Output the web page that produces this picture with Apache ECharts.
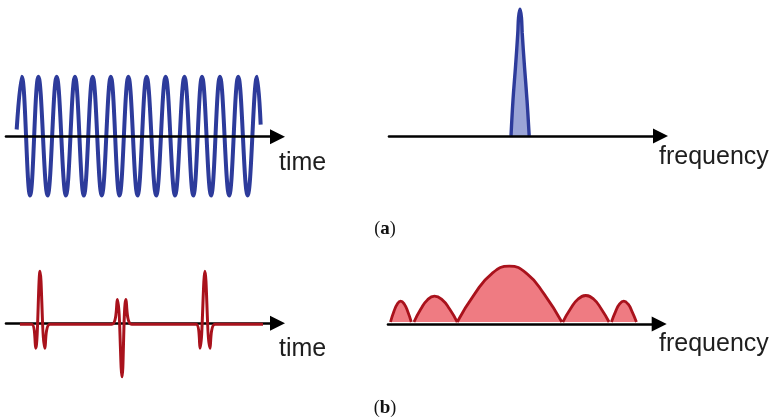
<!DOCTYPE html>
<html>
<head>
<meta charset="utf-8">
<script src="https://cdn.jsdelivr.net/npm/echarts@6/dist/echarts.min.js"></script>
<style>
html,body{margin:0;padding:0;background:#fff;}
#chart{width:772px;height:417px;}
</style>
</head>
<body>
<div id="chart"></div>
<script>
// (a) time signal: continuous sine wave (start, alternating peaks/troughs, end)
const sineTime = [0.59, 0.87, 1.33, 1.79, 2.30, 2.80, 3.31, 3.81, 4.30, 4.79, 5.29, 5.79, 6.27, 6.76, 7.27, 7.77, 8.30, 8.82, 9.34, 9.86, 10.35, 10.83, 11.33, 11.82, 12.33, 12.83, 13.35, 13.87, 14.07];
const sineAmp  = [0.12, 1.0, -0.98, 1.0, -0.98, 1.0, -0.98, 1.0, -0.98, 1.0, -0.98, 1.0, -0.98, 1.0, -0.98, 1.0, -0.98, 1.0, -0.98, 1.0, -0.98, 1.0, -0.98, 1.0, -0.98, 1.0, -0.98, 1.0, 0.2];

// (a) spectrum: single narrow peak
const peakFreq = [4.494, 4.567, 4.659, 4.744, 4.772, 4.825, 4.878, 4.906, 4.991, 5.083, 5.164];
const peakMag  = [0, 0.282, 0.541, 0.808, 0.93, 0.995, 0.93, 0.808, 0.541, 0.282, 0];

// (b) time signal: three short pulses
const pulseTime = [0.77, 1.42, 1.64, 1.88, 2.15, 2.43, 5.84, 6.15, 6.41, 6.63, 6.94, 10.50, 10.72, 10.99, 11.27, 11.55, 14.2];
const pulseAmp  = [-0.02, -0.02, -0.47, 0.98, -0.47, -0.02, -0.02, 0.45, -1.01, 0.45, -0.02, -0.02, -0.47, 0.98, -0.47, -0.02, -0.02];

// (b) spectrum: five lobes (null separates lobes)
const specFreq = [0.092, 0.217, 0.343, 0.468, 0.598, 0.728, 0.858, 0.90,
                  0.958, 1.21, 1.46, 1.713, 1.993, 2.272, 2.552, 2.552,
                  2.552, 3.19, 3.83, 4.47, 5.12, 5.76, 6.409, 6.43,
                  6.446, 6.73, 7.01, 7.293, 7.58, 7.86, 8.151, 8.20,
                  8.239, 8.39, 8.54, 8.692, 8.85, 9.0, 9.160];
const specMag  = [0, 0.183, 0.316, 0.365, 0.316, 0.183, 0, null,
                  0, 0.227, 0.392, 0.453, 0.392, 0.227, 0, null,
                  0, 0.49, 0.85, 0.979, 0.85, 0.49, 0, null,
                  0, 0.233, 0.403, 0.465, 0.403, 0.233, 0, null,
                  0, 0.183, 0.316, 0.365, 0.316, 0.183, 0];

// labels
const timeLabel = 'time';
const freqLabel = 'frequency';
const panelLabels = ['a', 'b'];

const zip = (xs, ys) => xs.map((x, i) => [x, ys[i] === null ? '-' : ys[i]]);

const BLUE = '#2d3b9b', BLUE_FILL = '#9ba5d7';
const RED = '#a9121c', RED_FILL = '#ef7b82';

function xAx(idx, min, max, z, onZero) {
  return {
    type: 'value', gridIndex: idx, min: min, max: max, z: z,
    axisLine: { show: true, onZero: onZero, symbol: ['none', 'triangle'], symbolSize: [15, 15],
      lineStyle: { color: '#000', width: 2.6 } },
    axisTick: { show: false }, axisLabel: { show: false }, splitLine: { show: false }
  };
}
function yAx(idx, min, max) {
  return { type: 'value', gridIndex: idx, min: min, max: max, show: false, splitLine: { show: false } };
}

const chart = echarts.init(document.getElementById('chart'), null, { renderer: 'canvas' });
chart.setOption({
  backgroundColor: '#fff',
  animation: false,
  grid: [
    { left: 6, top: 64.7, width: 271.5, height: 144 },
    { left: 389, top: 2.1, width: 271.5, height: 146.6 },
    { left: 6, top: 259.7, width: 271.5, height: 127.2 },
    { left: 388, top: 259.3, width: 271.2, height: 64.7 }
  ],
  xAxis: [
    xAx(0, 0, 15, 10, true),
    xAx(1, 0, 10, 10, true),
    xAx(2, 0, 15, 0, true),
    xAx(3, 0, 10, 10, false)
  ],
  yAxis: [
    yAx(0, -1.2, 1.2),
    yAx(1, -0.1, 1.05),
    yAx(2, -1.2, 1.2),
    yAx(3, -0.035, 1.1)
  ],
  series: [
    { type: 'line', xAxisIndex: 0, yAxisIndex: 0, data: zip(sineTime, sineAmp), smooth: 0.4,
      showSymbol: false, lineStyle: { color: BLUE, width: 4 } },
    { type: 'line', xAxisIndex: 1, yAxisIndex: 1, data: zip(peakFreq, peakMag), smooth: 0.4,
      showSymbol: false, lineStyle: { color: BLUE, width: 3.4 }, areaStyle: { color: BLUE_FILL, opacity: 1 } },
    { type: 'line', xAxisIndex: 2, yAxisIndex: 2, data: zip(pulseTime, pulseAmp), smooth: 0.35,
      showSymbol: false, lineStyle: { color: RED, width: 3 } },
    { type: 'line', xAxisIndex: 3, yAxisIndex: 3, data: zip(specFreq, specMag), smooth: 0.5,
      connectNulls: false, showSymbol: false, lineStyle: { color: RED, width: 2.8 },
      areaStyle: { color: RED_FILL, opacity: 1 } }
  ],
  graphic: [
    { type: 'text', x: 279, y: 163, style: { text: timeLabel, font: '25px "Liberation Sans", Arial, sans-serif', fill: '#1e1e1e', align: 'left', verticalAlign: 'middle' } },
    { type: 'text', x: 659, y: 157, style: { text: freqLabel, font: '25px "Liberation Sans", Arial, sans-serif', fill: '#1e1e1e', align: 'left', verticalAlign: 'middle' } },
    { type: 'text', x: 279, y: 349, style: { text: timeLabel, font: '25px "Liberation Sans", Arial, sans-serif', fill: '#1e1e1e', align: 'left', verticalAlign: 'middle' } },
    { type: 'text', x: 659, y: 344, style: { text: freqLabel, font: '25px "Liberation Sans", Arial, sans-serif', fill: '#1e1e1e', align: 'left', verticalAlign: 'middle' } },
    { type: 'text', x: 385, y: 229, style: { text: '{p|(}{b|' + panelLabels[0] + '}{p|)}', align: 'center', verticalAlign: 'middle',
      rich: { p: { font: '18px "Liberation Serif", serif', fill: '#111' }, b: { font: 'bold 19px "Liberation Serif", serif', fill: '#111' } } } },
    { type: 'text', x: 385, y: 408, style: { text: '{p|(}{b|' + panelLabels[1] + '}{p|)}', align: 'center', verticalAlign: 'middle',
      rich: { p: { font: '18px "Liberation Serif", serif', fill: '#111' }, b: { font: 'bold 19px "Liberation Serif", serif', fill: '#111' } } } }
  ]
});
</script>
</body>
</html>
